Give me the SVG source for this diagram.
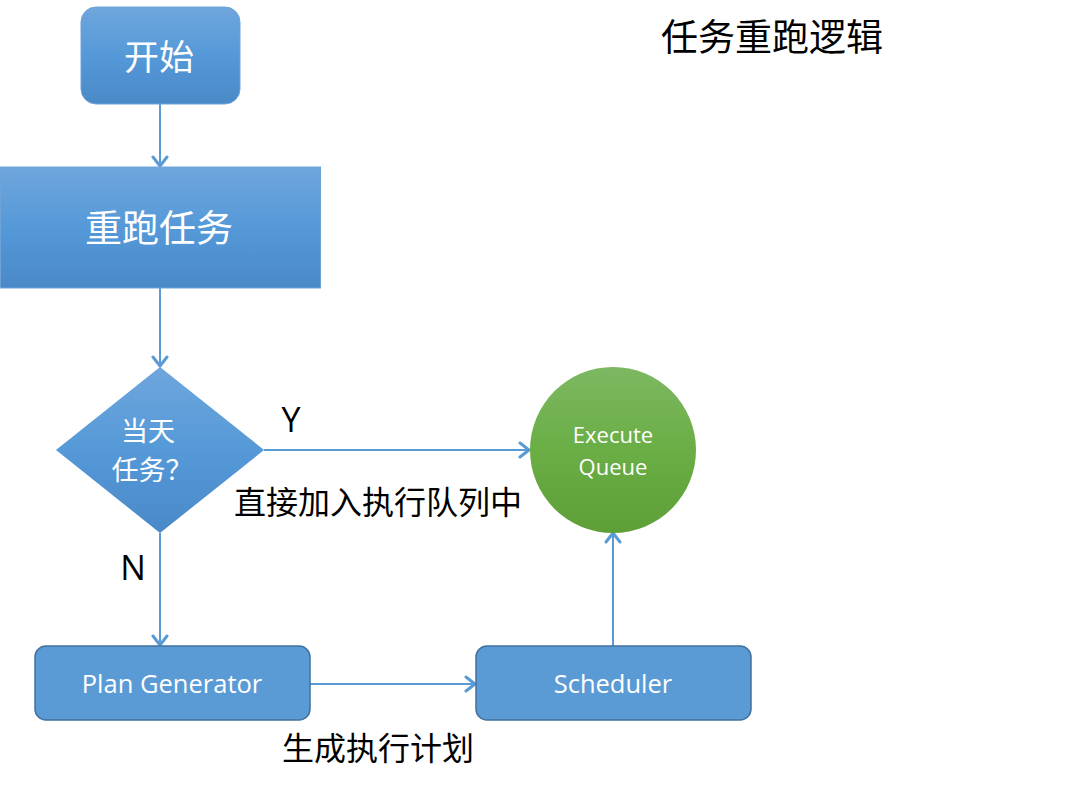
<svg xmlns="http://www.w3.org/2000/svg" width="1078" height="788" viewBox="0 0 1078 788">
<defs>
<linearGradient id="gBlue" x1="0" y1="0" x2="0" y2="1">
<stop offset="0" stop-color="#6fa6dc"/>
<stop offset="0.5" stop-color="#5599d8"/>
<stop offset="1" stop-color="#4a89c8"/>
</linearGradient>
<linearGradient id="gGreen" x1="0" y1="0" x2="0" y2="1">
<stop offset="0" stop-color="#7db862"/>
<stop offset="0.5" stop-color="#6aae45"/>
<stop offset="1" stop-color="#5e9f38"/>
</linearGradient>
<marker id="arr" markerWidth="18" markerHeight="18" refX="13" refY="9" orient="auto" markerUnits="userSpaceOnUse">
<path d="M4,2 L13,9 L4,16" fill="none" stroke="#5b9bd5" stroke-width="3" stroke-linecap="round" stroke-linejoin="round"/>
</marker>
</defs>
<style>
.cn{font-family:"Noto Sans CJK SC","Noto Sans",sans-serif;}
.lat{font-family:"Open Sans","Noto Sans",sans-serif;}
.w{fill:#ffffff;}
.k{fill:#000000;}
.conn{stroke:#5b9bd5;stroke-width:2;fill:none;marker-end:url(#arr);}
</style>
<rect width="1078" height="788" fill="#ffffff"/>
<g id="connectors">
<line class="conn" x1="160" y1="104" x2="160" y2="166"/>
<line class="conn" x1="160" y1="288" x2="160" y2="366"/>
<line class="conn" x1="264" y1="450" x2="529" y2="450"/>
<line class="conn" x1="160" y1="533" x2="160" y2="645"/>
<line class="conn" x1="310" y1="684" x2="475" y2="684"/>
<line class="conn" x1="613" y1="646" x2="613" y2="533"/>
</g>
<g id="title"><text class="cn k" x="772" y="51" font-size="37" text-anchor="middle">任务重跑逻辑</text></g>
<g id="start">
<rect x="81" y="7" width="159" height="97" rx="15" fill="url(#gBlue)" stroke="#6ea3d8" stroke-width="1"/>
<text class="cn w" x="159" y="70" font-size="35" text-anchor="middle">开始</text>
</g>
<g id="rerun">
<rect x="0.5" y="167" width="320" height="121" fill="url(#gBlue)" stroke="#6ea3d8" stroke-width="1"/>
<text class="cn w" x="159" y="242" font-size="37" text-anchor="middle">重跑任务</text>
</g>
<g id="decision">
<polygon points="160,367 264,450 160,533 56,450" fill="url(#gBlue)"/>
<text class="cn w" font-size="27" text-anchor="middle"><tspan x="148" y="441">当天</tspan><tspan x="152" y="480">任务？</tspan></text>
</g>
<g id="labels">
<text class="lat k" x="291" y="432" font-size="34" text-anchor="middle">Y</text>
<text class="lat k" x="133" y="580" font-size="34" text-anchor="middle">N</text>
<text class="cn k" x="378" y="514" font-size="32" text-anchor="middle">直接加入执行队列中</text>
<text class="cn k" x="378" y="760" font-size="32" text-anchor="middle">生成执行计划</text>
</g>
<g id="queue">
<circle cx="613" cy="450" r="83" fill="url(#gGreen)"/>
<text class="lat w" x="613" y="443" font-size="22" text-anchor="middle">Execute</text>
<text class="lat w" x="613" y="475" font-size="22" text-anchor="middle">Queue</text>
</g>
<g id="plan">
<rect x="35" y="646" width="275" height="74" rx="11" fill="#5b9bd5" stroke="#41719c" stroke-width="1.5"/>
<text class="lat w" x="172" y="693" font-size="25.5" text-anchor="middle">Plan Generator</text>
</g>
<g id="scheduler">
<rect x="476" y="646" width="275" height="74" rx="11" fill="#5b9bd5" stroke="#41719c" stroke-width="1.5"/>
<text class="lat w" x="613" y="693" font-size="25.5" text-anchor="middle">Scheduler</text>
</g>
</svg>
